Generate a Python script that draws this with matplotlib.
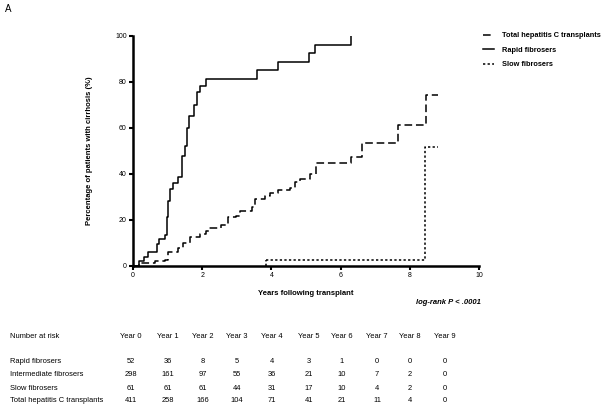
import matplotlib.pyplot as plt

plt.rcParams['font.family'] = ['Liberation Sans', 'DejaVu Sans']

# Kaplan-Meier style curves (years, % with cirrhosis)
rapid_t = [0, 0.18, 0.33, 0.44, 0.70, 0.76, 0.92, 0.97, 1.02, 1.07, 1.16, 1.31, 1.41,
           1.50, 1.57, 1.63, 1.75, 1.85, 1.95, 2.12, 3.57, 4.19, 5.09, 5.27, 6.29]
rapid_y = [0, 1.9, 3.8, 5.8, 9.6, 11.5, 13.5, 21, 28, 33.5, 36, 38.5, 47.5,
           52, 60, 65, 70, 75.5, 78, 81, 85, 88.5, 92.3, 96, 100]

total_t = [0, 0.17, 0.63, 0.92, 1.02, 1.31, 1.45, 1.64, 1.93, 2.12, 2.21, 2.55, 2.75,
           2.99, 3.09, 3.43, 3.52, 3.81, 3.95, 4.19, 4.53, 4.67, 4.82, 5.13, 5.30,
           6.29, 6.63, 7.66, 8.46, 8.82]
total_y = [0, 1, 2, 2.3, 6, 7.5, 9.7, 12.3, 14, 15.2, 16.3, 17.7, 21,
           21.6, 23.9, 25.7, 28.9, 30.3, 31.5, 32.9, 33.6, 36.5, 37.7, 39.9, 44.5,
           47.4, 53.2, 61.2, 74.2, 74.2]

# slow group stays on the axis until ~3.8 years (hidden by the spine)
slow_t = [3.83, 8.45, 8.82]
slow_y = [2.5, 51.7, 51.7]

# number at risk table
years = ["Year 0", "Year 1", "Year 2", "Year 3", "Year 4",
         "Year 5", "Year 6", "Year 7", "Year 8", "Year 9"]
groups = ["Rapid fibrosers", "Intermediate fibrosers", "Slow fibrosers",
          "Total hepatitis C transplants"]
at_risk = [
    [52, 36, 8, 5, 4, 3, 1, 0, 0, 0],
    [298, 161, 97, 55, 36, 21, 10, 7, 2, 0],
    [61, 61, 61, 44, 31, 17, 10, 4, 2, 0],
    [411, 258, 166, 104, 71, 41, 21, 11, 4, 0],
]

W, H = 602, 405
fig = plt.figure(figsize=(W / 100, H / 100), dpi=100)
ax = fig.add_axes([133 / W, 1 - 265.7 / H, (479 - 133) / W, (265.7 - 35.7) / H])

lw = 1.1
ax.step(total_t, total_y, where='post', color='black', lw=lw,
        linestyle=(0, (5, 2.5)), label="Total hepatitis C transplants")
ax.step(rapid_t, rapid_y, where='post', color='black', lw=lw,
        label="Rapid fibrosers")
# vertical rise from the axis at the first event
ax.plot([slow_t[0], slow_t[0]], [0, slow_y[0]], color='black', lw=lw,
        linestyle=(0, (1.5, 1.5)))
ax.step(slow_t, slow_y, where='post', color='black', lw=lw,
        linestyle=(0, (1.5, 1.5)), label="Slow fibrosers")

ax.set_xlim(0, 10)
ax.set_ylim(0, 100)
ax.set_xticks(range(0, 11, 2))
ax.set_yticks(range(0, 101, 20))
for s in ['top', 'right']:
    ax.spines[s].set_visible(False)
for s in ['left', 'bottom']:
    ax.spines[s].set_linewidth(1.8)
ax.tick_params(length=3, width=1.5, labelsize=5, colors='black', pad=1.5)
ax.set_xlabel("Years following transplant", fontsize=5.5, fontweight='bold', labelpad=8)
ax.set_ylabel("Percentage of patients with cirrhosis (%)", fontsize=5.5,
              fontweight='bold', labelpad=16)

fig.legend(loc='upper left', bbox_to_anchor=(478 / W, 1 - 27 / H), frameon=False,
           prop={'weight': 'bold', 'size': 5.3}, handlelength=1.5,
           labelspacing=1.0, handletextpad=1.0, borderaxespad=0.3)

fig.text(5 / W, 1 - 9 / H, "A", fontsize=7, va='center', ha='left')
fig.text(481 / W, 1 - 303 / H, "log-rank P < .0001", fontsize=5.5, fontweight='bold',
         style='italic', ha='right', va='center')

# table
col_x = [131, 168, 203, 237, 272, 309, 342, 377, 410, 445]
row_y = [361.5, 374.5, 388.5, 401]
fs = 5.4
fig.text(10 / W, 1 - 337 / H, "Number at risk", fontsize=fs,
         ha='left', va='center')
for x, lab in zip(col_x, years):
    fig.text(x / W, 1 - 337 / H, lab, fontsize=fs,
             ha='center', va='center')
for y, g, vals in zip(row_y, groups, at_risk):
    fig.text(10 / W, 1 - y / H, g, fontsize=fs,
             ha='left', va='center')
    for x, v in zip(col_x, vals):
        fig.text(x / W, 1 - y / H, str(v), fontsize=fs,
                 ha='center', va='center')

fig.savefig("out.png", dpi=100)
